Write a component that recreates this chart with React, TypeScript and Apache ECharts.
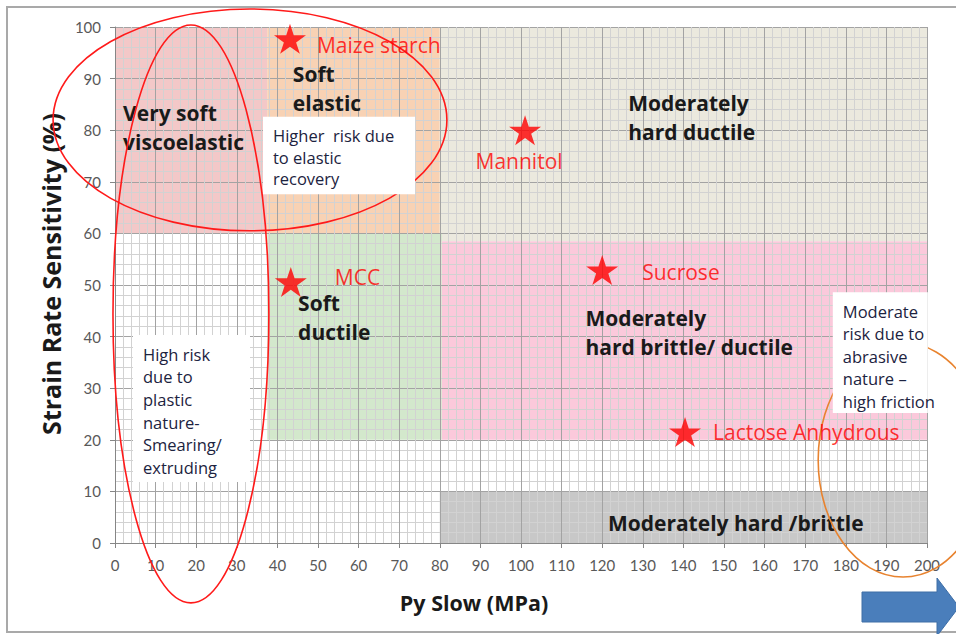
import React, { useEffect, useRef } from "react";
import * as echarts from "echarts";

// ---- axes ----
const xMin = 0;
const xMax = 200;
const xInterval = 10;
const yMin = 0;
const yMax = 100;
const yInterval = 10;
const xAxisTitle = "Py Slow (MPa)";
const yAxisTitle = "Strain Rate Sensitivity (%)";

// ---- materials (stars) ----
const materials = ["Maize starch", "Mannitol", "MCC", "Sucrose", "Lactose Anhydrous"];
const pySlow = [43.1, 101, 43.3, 120, 140.4];
const strainRate = [97.7, 80, 50.6, 52.9, 21.5];

// ---- classification regions ----
const regionNames = [
  "Very soft viscoelastic",
  "Soft elastic",
  "Moderately hard ductile",
  "Soft ductile",
  "Moderately hard brittle/ ductile",
  "Moderately hard /brittle",
];
const regionX0 = [0, 37.5, 80, 37.5, 80.5, 80];
const regionX1 = [37.5, 80, 200, 80.5, 200, 200];
const regionY0 = [60, 60, 58.5, 20, 20, 0];
const regionY1 = [100, 100, 100, 60, 58.5, 10];

// ---- region labels ----
const regionLabelTexts = [
  "Very soft\nviscoelastic",
  "Soft\nelastic",
  "Moderately\nhard ductile",
  "Soft\nductile",
  "Moderately\nhard brittle/ ductile",
  "Moderately hard /brittle",
];
const regionLabelX = [2.0, 43.8, 126.4, 45.1, 115.9, 121.4];
const regionLabelY = [86.1, 93.7, 88.1, 49.4, 46.4, 6.7];

// ---- risk note boxes ----
const noteTexts = [
  "Higher  risk due\nto elastic\nrecovery",
  "High risk\ndue to\nplastic\nnature-\nSmearing/\nextruding",
  "Moderate\nrisk due to\nabrasive\nnature \u2013\nhigh friction",
];
const noteX0 = [36.45, 4.43, 176.8];
const noteX1 = [73.9, 33.25, 200.2];
const noteY0 = [67.6, 11.8, 25.2];
const noteY1 = [82.6, 40.3, 48.6];

// ---- risk ellipses ----
const ellipseCx = [33.25, 18.7, 194.1];
const ellipseCy = [82.0, 44.4, 16.1];
const ellipseRx = [48.5, 19.2, 20.9];
const ellipseRy = [21.5, 56.0, 22.7];

// ---- styles (not data) ----
const regionColors = ["#f3c8c8", "#f8d2b4", "#ebe9de", "#d3e8cc", "#fbc9db", "#c8c8c8"];
const ellipseColors = ["#ff1a1a", "#ff1a1a", "#e8832f"];
const noteLineHeights = [21.5, 22.6, 22.5];
const labelPlacements: any[] = [
  { position: "right", distance: 11, offset: [0, 6] },
  { position: "bottom", distance: 5, offset: [-6, 0] },
  { position: "right", distance: 28, offset: [0, -5] },
  { position: "right", distance: 24, offset: [0, 2] },
  { position: "right", distance: 12, offset: [0, 0] },
];

const FONT = "'Open Sans', Lato, sans-serif";
const TICK_FONT = "Lato, 'Open Sans', sans-serif";
const starPath =
  "path://M50,0 L61.2,34.5 L97.6,34.5 L68.2,55.9 L79.4,90.5 L50,69.1 L20.6,90.5 L31.8,55.9 L2.4,34.5 L38.8,34.5 Z";

export default function App() {
  const ref = useRef<HTMLDivElement>(null);

  useEffect(() => {
    if (!ref.current) return;
    const chart = echarts.init(ref.current, undefined, { renderer: "svg" });

    const regionData = regionNames.map((n, i) => ({
      name: n,
      value: [regionX0[i], regionY0[i], regionX1[i], regionY1[i]],
    }));
    const ellipseData = ellipseCx.map((c, i) => [c, ellipseCy[i], ellipseRx[i], ellipseRy[i]]);
    const labelData = regionLabelTexts.map((t, i) => ({ name: t, value: [regionLabelX[i], regionLabelY[i]] }));
    const noteData = noteTexts.map((t, i) => ({
      name: t,
      value: [noteX0[i], noteY0[i], noteX1[i], noteY1[i]],
    }));
    const starData = materials.map((m, i) => ({
      name: m,
      value: [pySlow[i], strainRate[i]],
      label: labelPlacements[i],
    }));

    const axisCommon = {
      type: "value",
      axisLine: { show: true, lineStyle: { color: "#868686", width: 1 } },
      axisTick: { show: true, length: 5, lineStyle: { color: "#868686" } },
      splitLine: { show: true, lineStyle: { color: "#a3a3a3", width: 1 } },
      minorTick: { show: false, splitNumber: 5 },
      minorSplitLine: { show: true, lineStyle: { color: "#d2d2d2", width: 1 } },
      axisLabel: { color: "#595959", fontSize: 15, fontFamily: TICK_FONT, margin: 14 },
      nameLocation: "middle",
    };

    chart.setOption({
      animation: false,
      backgroundColor: "#ffffff",
      grid: { left: 115, right: 29, top: 27, bottom: 91 },
      xAxis: {
        ...axisCommon,
        min: xMin,
        max: xMax,
        interval: xInterval,
        name: xAxisTitle,
        nameGap: 48,
        nameTextStyle: {
          color: "#1a1a1a",
          fontSize: 21.5,
          fontWeight: "bold",
          fontFamily: FONT,
          padding: [0, 94, 0, 0],
        },
      },
      yAxis: {
        ...axisCommon,
        min: yMin,
        max: yMax,
        interval: yInterval,
        name: yAxisTitle,
        nameGap: 52,
        nameTextStyle: {
          color: "#1a1a1a",
          fontSize: 25,
          fontWeight: "bold",
          fontFamily: FONT,
          padding: [0, 0, 0, 22],
        },
      },
      graphic: [
        {
          type: "rect",
          shape: { x: 7, y: 7, width: 975, height: 625 },
          style: { fill: "none", stroke: "#a9a9a9", lineWidth: 2 },
          z: 100,
        },
        {
          type: "polygon",
          shape: {
            points: [
              [862, 592],
              [937, 592],
              [937, 578],
              [959, 607],
              [937, 636],
              [937, 622],
              [862, 622],
            ],
          },
          style: { fill: "#4a7ebb", stroke: "#3e6ea6", lineWidth: 1 },
          z: 100,
        },
      ],
      series: [
        {
          name: "Regions",
          type: "custom",
          z: -1,
          silent: true,
          encode: { x: [0, 2], y: [1, 3] },
          data: regionData,
          renderItem: (params: any, api: any) => {
            const p0 = api.coord([api.value(0), api.value(1)]);
            const p1 = api.coord([api.value(2), api.value(3)]);
            return {
              type: "rect",
              shape: {
                x: Math.min(p0[0], p1[0]),
                y: Math.min(p0[1], p1[1]),
                width: Math.abs(p1[0] - p0[0]),
                height: Math.abs(p1[1] - p0[1]),
              },
              style: { fill: regionColors[params.dataIndex] },
            };
          },
        },
        {
          name: "Region labels",
          type: "custom",
          z: 3,
          silent: true,
          encode: { x: 0, y: 1 },
          data: labelData,
          renderItem: (params: any, api: any) => {
            const p = api.coord([api.value(0), api.value(1)]);
            return {
              type: "text",
              x: p[0],
              y: p[1],
              style: {
                text: regionLabelTexts[params.dataIndex],
                fill: "#1a1a1a",
                fontSize: 21,
                fontWeight: "bold",
                fontFamily: FONT,
                lineHeight: 29,
                align: "left",
                verticalAlign: "top",
              },
            };
          },
        },
        {
          name: "Risk ellipses",
          type: "custom",
          z: 4,
          silent: true,
          clip: false,
          encode: { x: 0, y: 1 },
          data: ellipseData,
          renderItem: (params: any, api: any) => {
            const c = api.coord([api.value(0), api.value(1)]);
            const rx = api.size([api.value(2), 0])[0];
            const ry = api.size([0, api.value(3)])[1];
            return {
              type: "ellipse",
              shape: { cx: c[0], cy: c[1], rx, ry },
              style: { fill: "none", stroke: ellipseColors[params.dataIndex], lineWidth: 1.6 },
            };
          },
        },
        {
          name: "Materials",
          type: "scatter",
          z: 5,
          symbol: starPath,
          symbolSize: [32, 30],
          itemStyle: { color: "#ff0000" },
          label: {
            show: true,
            formatter: "{b}",
            color: "#ff0000",
            fontSize: 21,
            fontFamily: FONT,
          },
          data: starData,
        },
        {
          name: "Risk notes",
          type: "custom",
          z: 6,
          silent: true,
          clip: false,
          encode: { x: [0, 2], y: [1, 3] },
          data: noteData,
          renderItem: (params: any, api: any) => {
            const p0 = api.coord([api.value(0), api.value(1)]);
            const p1 = api.coord([api.value(2), api.value(3)]);
            const x = Math.min(p0[0], p1[0]);
            const y = Math.min(p0[1], p1[1]);
            return {
              type: "group",
              children: [
                {
                  type: "rect",
                  shape: { x, y, width: Math.abs(p1[0] - p0[0]), height: Math.abs(p1[1] - p0[1]) },
                  style: { fill: "#ffffff" },
                },
                {
                  type: "text",
                  x: x + 10,
                  y: y + 8,
                  style: {
                    text: noteTexts[params.dataIndex],
                    fill: "#1c2340",
                    fontSize: 16.5,
                    fontFamily: FONT,
                    lineHeight: noteLineHeights[params.dataIndex],
                    align: "left",
                    verticalAlign: "top",
                  },
                },
              ],
            };
          },
        },
      ],
    });

    return () => chart.dispose();
  }, []);

  return (
    <div
      ref={ref}
      style={{ position: "absolute", left: 0, top: 0, width: 956, height: 634, background: "#ffffff" }}
    />
  );
}
